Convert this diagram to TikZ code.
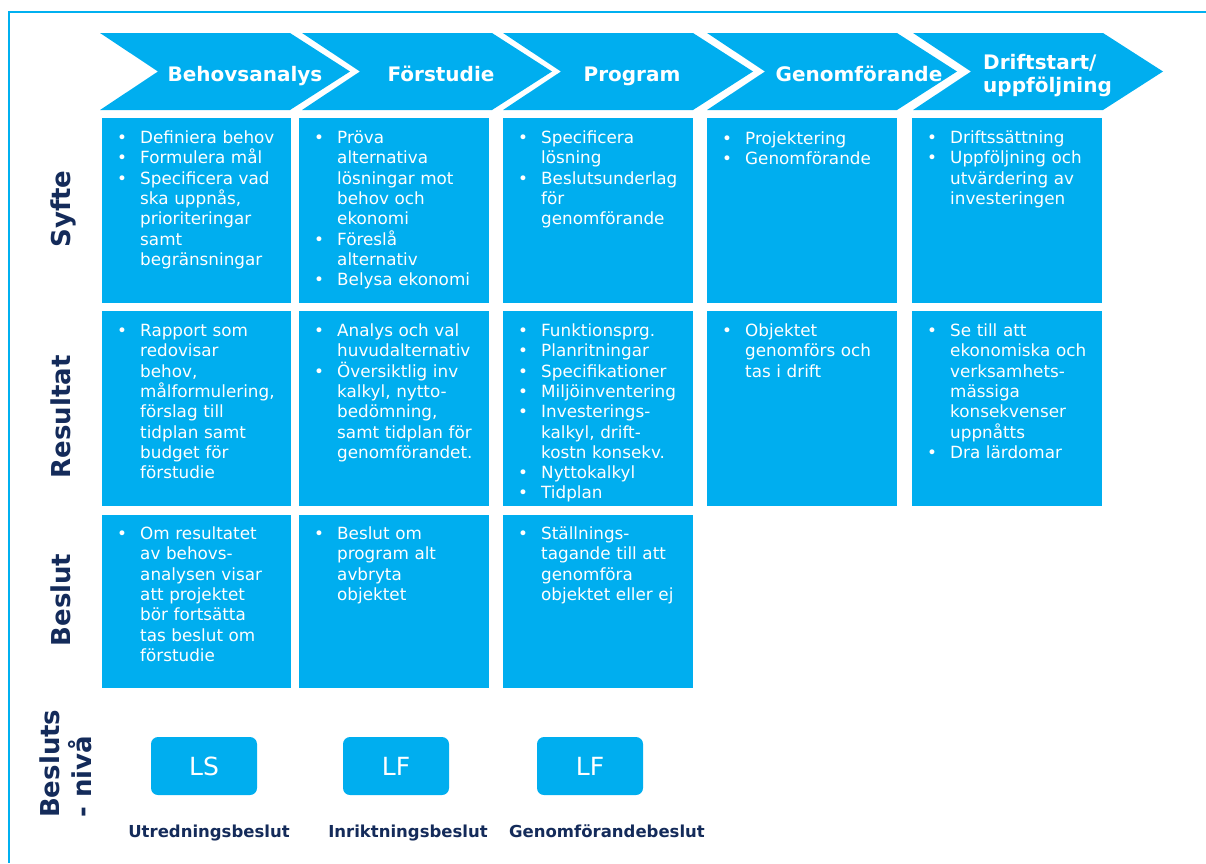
\documentclass[tikz,border=0pt]{standalone}
\usepackage{fontspec}
\setmainfont{DejaVu Sans}
\definecolor{cy}{HTML}{00AEEF}
\definecolor{navy}{RGB}{20,43,90}
\definecolor{framecol}{HTML}{00B0F0}
\newcommand{\bitem}[1]{\par\hangindent=30pt\hangafter=1\noindent\makebox[30pt][l]{\hspace{7pt}\rule{0pt}{16pt}\textbullet}#1}
\newcommand{\chevshape}[1]{\fill[cy] (#1,33) -- ++(190,0) -- ++(60,38.5) -- ++(-60,38.5) -- ++(-190,0) -- ++(58,-38.5) -- cycle;}
\tikzset{
  cell/.style={fill=cy, inner sep=0pt, anchor=north west, minimum width=189pt},
  btext/.style={anchor=north west, inner sep=0pt, text width=185pt, text=white, font=\fontsize{16.8}{20.3}\selectfont},
  chevtext/.style={text=white, inner sep=0pt, font=\bfseries\fontsize{20}{23}\selectfont},
  rowlabel/.style={text=navy, rotate=90, inner sep=0pt, anchor=base, font=\bfseries\fontsize{26}{32}\selectfont},
  lvlbox/.style={fill=cy, rounded corners=7pt, minimum width=106pt, minimum height=58pt, inner sep=0pt, text=white, font=\fontsize{25}{30}\selectfont},
  lvllabel/.style={text=navy, inner sep=0pt, anchor=base, font=\bfseries\fontsize{16.5}{20}\selectfont}
}
\begin{document}
\begin{tikzpicture}[x=1pt,y=-1pt]
\useasboundingbox (0,0) rectangle (1206,863);
\draw[framecol, line width=1.5pt] (1206,12) -- (9,12) -- (9,863);
% chevrons
\chevshape{100}
\chevshape{302}
\chevshape{503}
\chevshape{707}
\chevshape{913}
\node[chevtext, anchor=base] (c1) at (245,81) {Behovsanalys};
\node[chevtext, anchor=base] (c2) at (441,81) {Förstudie};
\node[chevtext, anchor=base] (c3) at (632,81) {Program};
\node[chevtext, anchor=base] (c4) at (859,81) {Genomförande};
\node[chevtext, anchor=west, align=left] (c5) at (983,75.2) {Driftstart/\\uppföljning};
% row labels
\node[rowlabel] (lsyfte) at (70,209) {Syfte};
\node[rowlabel] (lres) at (70,417) {Resultat};
\node[rowlabel] (lbes) at (70,600) {Beslut};
\node[text=navy, rotate=90, inner sep=0pt, anchor=north west, align=left, font=\bfseries\fontsize{26}{32}\selectfont] (lniva) at (40,818) {Besluts\\- nivå};
% row 1 cells
\node[cell, minimum height=185pt] (b11) at (102,118) {};
\node[cell, minimum height=185pt, minimum width=190pt] (b12) at (299,118) {};
\node[cell, minimum height=185pt, minimum width=190pt] (b13) at (503,118) {};
\node[cell, minimum height=185pt, minimum width=190pt] (b14) at (707,118) {};
\node[cell, minimum height=185pt, minimum width=190pt] (b15) at (912,118) {};
% row 2 cells
\node[cell, minimum height=195pt] (b21) at (102,311) {};
\node[cell, minimum height=195pt, minimum width=190pt] (b22) at (299,311) {};
\node[cell, minimum height=195pt, minimum width=190pt] (b23) at (503,311) {};
\node[cell, minimum height=195pt, minimum width=190pt] (b24) at (707,311) {};
\node[cell, minimum height=195pt, minimum width=190pt] (b25) at (912,311) {};
% row 3 cells
\node[cell, minimum height=173pt] (b31) at (102,515) {};
\node[cell, minimum height=173pt, minimum width=190pt] (b32) at (299,515) {};
\node[cell, minimum height=173pt, minimum width=190pt] (b33) at (503,515) {};
% texts row 1
\node[btext] (t11) at (110,123) {\bitem{Definiera behov}\bitem{Formulera mål}\bitem{Specificera vad\newline ska uppnås,\newline prioriteringar\newline samt\newline begränsningar}\par};
\node[btext] (t12) at (307,123) {\bitem{Pröva\newline alternativa\newline lösningar mot\newline behov och\newline ekonomi}\bitem{Föreslå\newline alternativ}\bitem{Belysa ekonomi}\par};
\node[btext] (t13) at (511,123) {\bitem{Specificera\newline lösning}\bitem{Beslutsunderlag\newline för\newline genomförande}\par};
\node[btext] (t14) at (715,124) {\bitem{Projektering}\bitem{Genomförande}\par};
\node[btext] (t15) at (920,123) {\bitem{Driftssättning}\bitem{Uppföljning och\newline utvärdering av\newline investeringen}\par};
% texts row 2
\node[btext] (t21) at (110,316) {\bitem{Rapport som\newline redovisar\newline behov,\newline målformulering,\newline förslag till\newline tidplan samt\newline budget för\newline förstudie}\par};
\node[btext] (t22) at (307,316) {\bitem{Analys och val\newline huvudalternativ}\bitem{Översiktlig inv\newline kalkyl, nytto-\newline bedömning,\newline samt tidplan för\newline genomförandet.}\par};
\node[btext] (t23) at (511,316) {\bitem{Funktionsprg.}\bitem{Planritningar}\bitem{Specifikationer}\bitem{Miljöinventering}\bitem{Investerings-\newline kalkyl, drift-\newline kostn konsekv.}\bitem{Nyttokalkyl}\bitem{Tidplan}\par};
\node[btext] (t24) at (715,316) {\bitem{Objektet\newline genomförs och\newline tas i drift}\par};
\node[btext] (t25) at (920,316) {\bitem{Se till att\newline ekonomiska och\newline verksamhets-\newline mässiga\newline konsekvenser\newline uppnåtts}\bitem{Dra lärdomar}\par};
% texts row 3
\node[btext] (t31) at (110,519) {\bitem{Om resultatet\newline av behovs-\newline analysen visar\newline att projektet\newline bör fortsätta\newline tas beslut om\newline förstudie}\par};
\node[btext] (t32) at (307,519) {\bitem{Beslut om\newline program alt\newline avbryta\newline objektet}\par};
\node[btext] (t33) at (511,519) {\bitem{Ställnings-\newline tagande till att\newline genomföra\newline objektet eller ej}\par};
% decision levels
\node[lvlbox] (ls) at (204,766) {LS};
\node[lvlbox] (lf1) at (396,766) {LF};
\node[lvlbox] (lf2) at (590,766) {LF};
\node[lvllabel] (u1) at (209,837) {Utredningsbeslut};
\node[lvllabel] (u2) at (408,837) {Inriktningsbeslut};
\node[lvllabel] (u3) at (607,837) {Genomförandebeslut};
\end{tikzpicture}
\end{document}
